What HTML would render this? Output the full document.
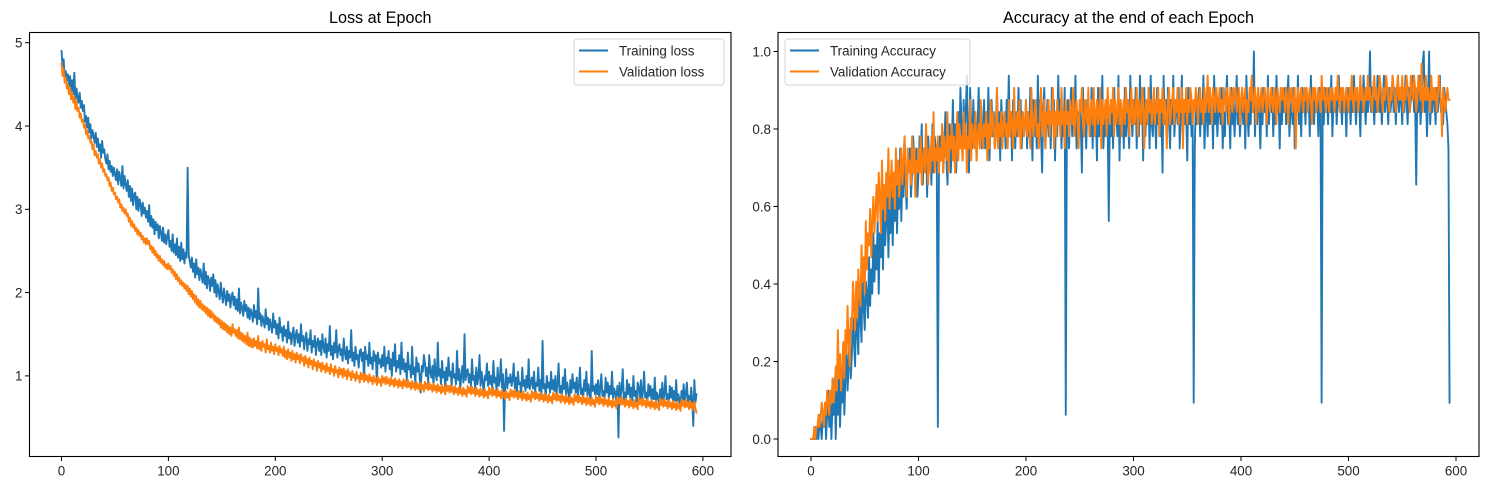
<!DOCTYPE html>
<html><head><meta charset="utf-8"><style>
html,body{margin:0;padding:0;background:#fff;}
svg{display:block;font-family:"Liberation Sans","DejaVu Sans",sans-serif;}
</style></head><body>
<svg id="c" width="1490" height="490" xmlns="http://www.w3.org/2000/svg"></svg>
<script>
const trainLoss=[4.90,4.72,4.80,4.58,4.66,4.55,4.62,4.48,4.60,4.42,4.55,4.38,4.64,4.30,4.45,4.35,4.28,4.40,4.22,4.30,
4.18,4.25,4.05,4.12,3.98,4.10,3.92,4.02,3.85,3.95,3.88,3.80,3.92,3.75,3.85,3.70,3.78,3.62,3.82,3.68,
3.72,3.60,3.55,3.66,3.48,3.58,3.45,3.52,3.40,3.50,3.42,3.35,3.48,3.30,3.45,3.38,3.28,3.52,3.25,3.40,
3.30,3.22,3.35,3.15,3.28,3.10,3.25,3.05,3.18,3.20,3.00,3.15,2.98,3.12,3.06,2.92,3.08,2.95,3.02,2.90,
2.98,2.85,3.05,2.80,2.92,2.78,2.88,2.70,2.85,2.75,2.82,2.65,2.80,2.72,2.62,2.78,2.60,2.70,2.58,2.68,
2.75,2.55,2.62,2.50,2.70,2.48,2.58,2.45,2.65,2.42,2.55,2.38,2.60,2.40,2.52,2.35,2.48,2.42,3.50,2.45,
2.38,2.30,2.42,2.25,2.35,2.18,2.40,2.22,2.30,2.15,2.28,2.20,2.12,2.35,2.10,2.25,2.05,2.20,2.15,2.02,
2.18,2.08,2.22,2.00,2.15,1.95,2.10,2.02,1.92,2.12,1.98,1.88,2.05,1.95,1.85,2.02,1.90,1.98,1.82,1.95,
2.00,1.85,1.95,1.80,1.92,1.78,2.05,1.75,1.88,1.82,1.72,1.90,1.78,1.85,1.70,1.82,1.68,1.80,1.75,1.65,
1.85,1.70,1.78,1.62,2.05,1.68,1.75,1.60,1.72,1.66,1.58,1.80,1.62,1.70,1.55,1.68,1.60,1.52,1.75,1.58,
1.66,1.50,1.62,1.45,1.70,1.52,1.58,1.42,1.60,1.48,1.55,1.40,1.65,1.45,1.52,1.38,1.50,1.58,1.36,1.48,
1.55,1.40,1.50,1.35,1.62,1.42,1.48,1.32,1.45,1.52,1.30,1.44,1.38,1.55,1.28,1.42,1.35,1.48,1.25,1.40,
1.45,1.30,1.42,1.25,1.50,1.35,1.28,1.45,1.22,1.38,1.30,1.60,1.25,1.36,1.20,1.40,1.28,1.55,1.22,1.32,
1.38,1.25,1.32,1.18,1.45,1.28,1.20,1.35,1.15,1.30,1.22,1.55,1.18,1.28,1.12,1.35,1.20,1.25,1.10,1.30,
1.32,1.18,1.28,0.95,1.35,1.20,1.25,1.12,1.40,1.15,1.22,1.08,1.30,1.18,1.25,0.90,1.28,1.15,1.20,1.10,
1.25,1.12,1.35,1.05,1.22,1.15,1.30,1.08,1.20,1.00,1.28,1.12,1.38,1.05,1.18,1.10,1.25,1.02,1.40,1.08,
1.20,1.05,1.15,0.95,1.28,1.08,1.12,0.98,1.35,1.02,1.10,0.92,1.22,1.05,1.15,1.00,0.80,1.12,1.05,1.25,
1.15,1.00,1.10,0.92,1.25,1.05,0.98,1.12,0.88,1.20,1.02,0.95,1.40,1.00,1.08,0.90,1.18,0.98,1.05,0.85,
1.10,0.95,1.22,1.00,1.05,0.88,1.15,0.98,1.02,0.90,1.30,0.95,1.08,0.85,1.00,1.12,0.92,1.50,0.95,1.05,
1.08,0.92,1.02,0.88,1.20,0.95,1.00,0.85,1.10,0.90,0.98,1.25,0.88,1.05,0.92,0.80,1.00,0.95,1.15,0.88,
1.05,0.90,1.00,0.85,1.18,0.92,0.98,0.82,1.10,0.88,0.95,1.20,0.86,1.02,0.34,0.90,1.08,0.85,0.98,0.92,
1.02,0.88,0.95,1.15,0.85,0.98,0.80,1.05,0.90,0.92,0.78,1.10,0.88,0.95,0.82,1.00,0.86,1.20,0.84,0.92,
0.98,0.85,1.05,0.80,0.92,0.88,1.10,0.82,0.95,0.78,1.42,0.85,0.90,0.75,1.00,0.86,0.92,0.80,1.05,0.84,
0.95,0.82,1.00,0.78,0.90,1.15,0.80,0.88,0.75,0.98,0.84,1.08,0.78,0.92,0.82,0.70,0.95,0.80,1.02,0.85,
0.92,0.80,0.98,0.75,0.88,1.10,0.78,0.85,0.72,0.95,0.82,1.05,0.76,0.90,0.80,0.68,1.30,0.82,0.88,0.78,
0.90,0.78,0.95,0.72,0.85,1.02,0.76,0.82,0.70,0.98,0.80,0.92,0.74,0.88,0.78,1.05,0.72,0.85,0.80,0.70,
0.88,0.26,0.92,0.75,0.84,1.08,0.72,0.80,0.68,0.95,0.78,0.90,0.74,0.86,0.70,1.00,0.76,0.82,0.68,0.92,
0.86,0.72,0.95,0.70,0.82,1.05,0.74,0.80,0.66,0.90,0.76,0.88,0.70,0.84,0.72,0.98,0.68,0.80,0.75,0.65,
0.84,0.70,0.92,0.68,0.80,1.00,0.72,0.78,0.64,0.88,0.74,0.86,0.68,0.82,0.70,0.95,0.66,0.78,0.72,0.62,
0.82,0.68,0.90,0.66,0.78,0.92,0.70,0.76,0.62,0.86,0.72,0.40,0.95,0.68,0.78];
const valLoss=[4.75,4.60,4.68,4.52,4.58,4.45,4.50,4.38,4.46,4.32,4.40,4.28,4.35,4.20,4.30,4.18,4.22,4.10,4.15,4.05,
4.08,3.98,4.02,3.90,3.95,3.85,3.88,3.80,3.82,3.72,3.78,3.65,3.70,3.62,3.66,3.55,3.60,3.50,3.55,3.45,
3.48,3.40,3.42,3.35,3.38,3.28,3.32,3.22,3.26,3.18,3.20,3.12,3.15,3.08,3.12,3.02,3.06,2.98,3.02,2.95,
3.00,2.92,2.95,2.85,2.90,2.80,2.86,2.78,2.82,2.74,2.78,2.70,2.75,2.68,2.72,2.64,2.68,2.60,2.65,2.58,
2.65,2.58,2.62,2.52,2.56,2.48,2.54,2.45,2.50,2.42,2.46,2.38,2.44,2.36,2.40,2.33,2.38,2.30,2.34,2.28,
2.35,2.28,2.32,2.24,2.28,2.20,2.25,2.16,2.22,2.14,2.18,2.10,2.15,2.08,2.12,2.05,2.10,2.02,2.08,1.98,
2.05,1.95,2.02,1.92,1.98,1.88,1.96,1.85,1.92,1.82,1.90,1.80,1.86,1.78,1.84,1.75,1.82,1.72,1.80,1.70,
1.78,1.70,1.75,1.66,1.72,1.64,1.70,1.62,1.68,1.58,1.66,1.56,1.64,1.55,1.62,1.52,1.60,1.50,1.58,1.48,
1.62,1.52,1.56,1.48,1.55,1.45,1.58,1.44,1.52,1.42,1.50,1.40,1.48,1.38,1.52,1.36,1.46,1.35,1.44,1.34,
1.45,1.36,1.42,1.33,1.48,1.32,1.40,1.30,1.42,1.35,1.38,1.28,1.44,1.32,1.36,1.28,1.40,1.30,1.35,1.26,
1.38,1.30,1.34,1.25,1.36,1.28,1.32,1.24,1.35,1.22,1.30,1.20,1.32,1.22,1.28,1.18,1.30,1.20,1.26,1.16,
1.28,1.20,1.25,1.15,1.26,1.18,1.22,1.12,1.24,1.15,1.20,1.10,1.22,1.14,1.18,1.08,1.20,1.12,1.16,1.06,
1.18,1.10,1.15,1.05,1.16,1.08,1.12,1.04,1.15,1.06,1.10,1.02,1.14,1.05,1.08,1.00,1.12,1.04,1.07,0.98,
1.10,1.02,1.08,0.98,1.09,1.00,1.06,0.96,1.08,1.00,1.04,0.95,1.06,0.98,1.02,0.94,1.05,0.97,1.00,0.92,
1.04,0.96,1.02,0.93,1.03,0.95,1.00,0.92,1.02,0.94,0.98,0.90,1.00,0.93,0.97,0.89,0.99,0.92,0.96,0.88,
1.00,0.92,0.98,0.90,0.99,0.91,0.96,0.88,0.98,0.90,0.95,0.87,0.97,0.89,0.94,0.86,0.96,0.88,0.93,0.85,
0.96,0.88,0.94,0.86,0.95,0.87,0.92,0.84,0.94,0.86,0.91,0.83,0.93,0.85,0.90,0.82,0.92,0.84,0.89,0.81,
0.93,0.85,0.91,0.83,0.92,0.84,0.89,0.81,0.91,0.83,0.88,0.80,0.90,0.82,0.87,0.79,0.89,0.81,0.86,0.78,
0.90,0.82,0.88,0.80,0.89,0.81,0.86,0.78,0.88,0.80,0.85,0.77,0.87,0.79,0.84,0.76,0.86,0.78,0.83,0.75,
0.88,0.80,0.86,0.78,0.87,0.79,0.84,0.76,0.86,0.78,0.83,0.75,0.85,0.77,0.82,0.74,0.84,0.76,0.81,0.73,
0.86,0.78,0.84,0.76,0.85,0.77,0.82,0.74,0.84,0.76,0.81,0.73,0.83,0.75,0.80,0.72,0.82,0.74,0.79,0.71,
0.84,0.76,0.82,0.74,0.83,0.75,0.80,0.72,0.82,0.74,0.79,0.71,0.81,0.73,0.78,0.70,0.80,0.72,0.77,0.69,
0.82,0.74,0.80,0.72,0.81,0.73,0.78,0.70,0.80,0.72,0.77,0.69,0.79,0.71,0.76,0.68,0.78,0.70,0.75,0.67,
0.80,0.72,0.78,0.70,0.79,0.71,0.76,0.68,0.78,0.70,0.75,0.67,0.77,0.69,0.74,0.66,0.76,0.68,0.73,0.65,
0.78,0.70,0.76,0.68,0.77,0.69,0.74,0.66,0.76,0.68,0.73,0.65,0.75,0.67,0.72,0.64,0.74,0.66,0.71,0.63,
0.76,0.68,0.74,0.66,0.75,0.67,0.72,0.64,0.74,0.66,0.71,0.63,0.73,0.65,0.70,0.62,0.72,0.64,0.69,0.61,
0.75,0.67,0.73,0.65,0.74,0.66,0.71,0.63,0.73,0.65,0.70,0.62,0.72,0.64,0.69,0.61,0.71,0.63,0.68,0.60,
0.74,0.66,0.72,0.64,0.73,0.65,0.70,0.62,0.72,0.64,0.69,0.61,0.71,0.63,0.68,0.60,0.70,0.62,0.67,0.59,
0.73,0.65,0.71,0.63,0.72,0.64,0.69,0.61,0.71,0.63,0.68,0.60,0.70,0.62,0.67,0.59,0.69,0.61,0.66,0.58,
0.72,0.64,0.70,0.62,0.71,0.63,0.68,0.60,0.70,0.62,0.67,0.59,0.69,0.61,0.56];
const batchSize=32;
const trainCorrect=[0,0,0,0,1,0,1,0,2,1,0,2,1,3,0,2,4,1,3,0,
3,2,5,0,4,2,6,1,4,3,7,2,5,8,4,6,9,5,7,10,
8,6,11,9,7,12,10,8,14,11,9,13,12,10,15,11,14,12,17,13,
16,14,18,12,17,15,19,14,20,16,18,21,15,19,17,22,16,20,18,23,
17,21,19,24,18,22,20,25,21,19,23,22,24,20,22,25,23,21,24,20,
22,25,23,26,21,24,22,26,20,25,23,24,21,26,22,25,24,23,1,22,
25,23,26,22,24,27,23,21,25,26,22,24,28,23,26,22,25,27,24,29,
26,23,28,24,27,30,25,22,29,26,24,28,25,27,23,26,29,25,27,24,
26,28,24,27,25,29,23,26,28,25,27,24,26,29,25,27,23,28,26,25,
27,24,28,26,30,25,27,23,28,26,24,27,25,29,26,28,24,27,25,26,
28,24,27,25,29,26,23,28,25,27,24,30,26,28,25,22,27,29,24,26,
28,25,27,24,29,26,28,23,27,25,30,26,28,24,27,25,29,2,26,28,
24,27,29,25,28,26,30,24,27,25,28,26,22,29,25,27,24,28,26,27,
25,29,24,28,26,27,23,29,25,28,26,30,24,27,25,28,26,18,27,25,
28,24,29,26,27,25,30,23,28,26,27,24,29,25,28,26,24,30,27,25,
28,26,29,24,27,25,30,26,28,23,29,25,27,26,28,24,30,26,25,28,
27,24,29,26,28,25,27,22,30,26,28,25,29,27,24,28,26,30,25,27,
28,26,29,24,27,30,25,28,26,27,23,29,26,28,25,27,3,24,28,26,
27,29,25,28,26,30,24,27,28,25,29,26,27,28,24,30,26,28,25,27,
28,26,29,24,27,25,28,30,26,27,24,29,26,28,25,27,30,26,28,25,
27,29,26,28,24,30,27,25,28,26,29,27,32,25,28,26,29,27,24,28,
26,29,27,28,25,30,26,28,27,29,25,28,26,30,27,28,24,29,26,28,
27,29,26,28,30,25,27,28,26,29,24,28,27,30,26,28,25,29,27,28,
26,29,27,28,25,30,27,28,26,29,27,28,25,29,27,3,28,26,29,27,
28,26,29,27,30,25,28,27,29,26,28,30,27,28,26,29,27,28,25,29,
27,28,26,29,27,30,28,26,29,27,28,25,29,27,30,28,26,29,27,28,
32,27,29,28,26,29,27,30,28,27,29,26,28,30,27,29,28,26,29,27,
28,30,27,29,26,28,30,27,29,28,26,29,27,30,28,26,29,27,28,29,
30,27,28,21,29,27,30,26,28,31,32,27,29,25,28,32,26,28,27,29,
28,26,29,27,28,30,27,28,26,29,28,27,26,24,3];
const valCorrect=[0,0,0,1,0,1,1,2,1,2,3,2,1,3,2,4,3,2,4,3,
5,3,4,6,4,9,5,7,4,6,8,5,9,7,11,8,6,10,9,13,
11,9,13,10,14,12,11,16,13,15,12,18,14,17,16,19,15,18,20,17,
19,21,18,22,20,17,23,19,21,18,22,20,24,19,21,23,20,22,19,24,
21,23,20,22,24,21,23,25,22,20,24,22,23,21,25,22,24,20,23,22,
24,22,25,21,23,24,22,26,23,21,24,22,25,23,27,22,24,23,25,22,
24,23,26,22,25,24,23,27,22,25,24,26,23,25,22,24,27,23,26,24,
25,23,27,24,26,22,25,24,28,23,26,25,24,27,23,25,26,24,28,25,
24,26,25,27,23,26,24,28,25,27,26,24,25,29,24,26,25,27,24,26,
27,25,26,24,28,25,27,26,24,29,25,26,27,25,28,24,26,27,25,26,
28,25,27,26,24,29,26,25,27,28,25,26,24,27,29,25,26,28,24,27,
26,28,25,27,26,29,24,27,25,28,26,27,25,29,26,27,24,28,26,27,
25,28,27,26,29,25,27,28,26,24,28,27,29,26,25,28,27,26,29,25,
27,28,26,29,25,27,28,26,27,29,24,28,26,27,28,25,29,27,26,28,
27,29,25,28,26,27,29,26,28,25,27,28,26,29,27,28,25,27,29,26,
28,26,27,29,25,28,27,26,29,28,24,27,28,26,29,27,28,26,27,29,
26,28,27,29,25,28,27,29,26,28,27,24,28,29,26,27,28,29,26,28,
27,29,26,28,27,29,24,28,27,29,26,28,27,29,28,26,28,27,29,28,
26,28,29,27,28,26,29,27,28,30,27,29,28,26,29,28,27,29,28,27,
29,27,28,26,29,28,27,29,28,26,29,28,27,29,28,29,27,28,29,26,
28,29,27,28,29,26,28,27,29,28,30,27,28,29,26,28,29,27,28,29,
27,28,29,28,26,29,28,27,29,28,27,29,28,26,29,28,27,29,28,29,
28,27,29,28,26,29,28,29,27,28,29,24,28,29,27,28,29,28,27,29,
28,29,27,28,29,28,26,29,28,29,27,28,29,28,27,30,28,29,28,27,
29,28,27,29,28,29,28,27,29,28,30,28,27,29,28,29,27,28,29,28,
27,29,28,30,28,27,29,28,29,27,28,30,28,29,27,28,29,28,30,28,
29,28,27,29,30,28,29,27,28,30,29,28,27,29,28,30,29,28,27,29,
28,30,29,28,27,29,30,28,29,28,30,27,29,28,30,29,28,27,30,29,
28,30,29,27,28,30,29,28,31,27,29,28,30,28,29,28,27,30,28,29,
28,29,27,28,30,29,28,25,29,28,27,28,29,28,28];
const xTicks=[0,100,200,300,400,500,600];
const lossTicks=[1,2,3,4,5];
const accTicks=[0.0,0.2,0.4,0.6,0.8,1.0];

const NS="http://www.w3.org/2000/svg";
const svg=document.getElementById('c');
function mk(tag,attrs,parent){const e=document.createElementNS(NS,tag);for(const k in attrs)e.setAttribute(k,attrs[k]);(parent||svg).appendChild(e);return e;}

function drawPanel(P){
  const g=mk('g',{});
  
  
  const xs=v=>P.x0+(v-P.xmin)*(P.x1-P.x0)/(P.xmax-P.xmin);
  const ys=v=>P.y0+(v-P.ymin)*(P.y1-P.y0)/(P.ymax-P.ymin);
  // series
  P.series.forEach(s=>{
    let d='';
    s.data.forEach((v,i)=>{d+=(i?'L':'M')+xs(i).toFixed(2)+' '+ys(s.f(v)).toFixed(2);});
    const p=mk('path',{d:d,fill:'none',stroke:s.color,'stroke-width':1.9,'stroke-linejoin':'round','stroke-linecap':'square'},g);
    
    
  });
  // frame
  const fr=mk('rect',{x:P.L,y:P.T,width:P.R-P.L,height:P.B-P.T,fill:'none',stroke:'#000','stroke-width':1.1},g);
  
  
  // x ticks
  P.xt.forEach(t=>{
    const x=xs(t);
    mk('line',{x1:x,x2:x,y1:P.B,y2:P.B+4.5,stroke:'#000','stroke-width':1},g);
    const tx=mk('text',{x:x,y:P.B+19,'text-anchor':'middle','font-size':13.4,fill:'#262626'},g);
    tx.textContent=String(t);
    
    
  });
  P.yt.forEach(t=>{
    const y=ys(t);
    mk('line',{x1:P.L-4.5,x2:P.L,y1:y,y2:y,stroke:'#000','stroke-width':1},g);
    const tx=mk('text',{x:P.L-7,y:y+4.8,'text-anchor':'end','font-size':13.4,fill:'#262626'},g);
    tx.textContent=P.yfmt(t);
    
    
  });
  const ti=mk('text',{x:(P.L+P.R)/2,y:23,'text-anchor':'middle','font-size':16.2,fill:'#000'},g);
  ti.textContent=P.title;
  
  
  // legend
  const lg=mk('g',{},g);
  
  
  mk('rect',{x:P.lx,y:39,width:P.lw,height:46,rx:3,fill:'#fff','fill-opacity':0.8,stroke:'#d6d6d6','stroke-width':1},lg);
  P.series.forEach((s,i)=>{
    const yy=50.5+i*21;
    mk('line',{x1:P.lx+5,x2:P.lx+34,y1:yy,y2:yy,stroke:s.color,'stroke-width':2},lg);
    const t=mk('text',{x:P.lx+45,y:yy+5,'font-size':13.4,fill:'#262626'},lg);
    t.textContent=s.label;
    
    
  });
}
drawPanel({name:'loss-chart',title:'Loss at Epoch',L:29.5,R:731,T:32.5,B:456.5,
  x0:61.5,x1:702.9,xmin:0,xmax:600,y0:375.9,y1:42.7,ymin:1,ymax:5,
  xt:xTicks,yt:lossTicks,yfmt:t=>String(t),lx:574,lw:150,
  series:[{id:'training-loss-line',label:'Training loss',color:'#1f77b4',data:trainLoss,f:v=>v},
          {id:'validation-loss-line',label:'Validation loss',color:'#ff7f0e',data:valLoss,f:v=>v}]});
drawPanel({name:'accuracy-chart',title:'Accuracy at the end of each Epoch',L:778,R:1479,T:32.5,B:456.5,
  x0:811,x1:1456,xmin:0,xmax:600,y0:439,y1:51.5,ymin:0,ymax:1,
  xt:xTicks,yt:accTicks,yfmt:t=>t.toFixed(1),lx:785,lw:185,
  series:[{id:'training-accuracy-line',label:'Training Accuracy',color:'#1f77b4',data:trainCorrect,f:v=>v/batchSize},
          {id:'validation-accuracy-line',label:'Validation Accuracy',color:'#ff7f0e',data:valCorrect,f:v=>v/batchSize}]});
</script>
</body></html>
